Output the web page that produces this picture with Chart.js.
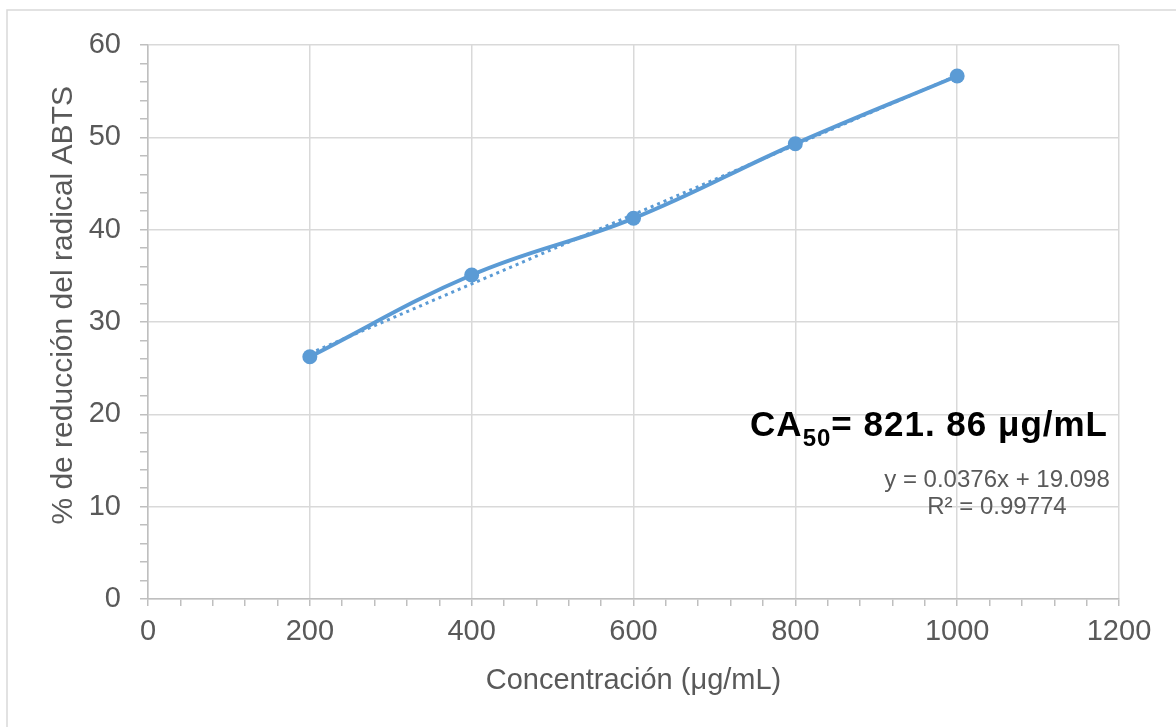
<!DOCTYPE html>
<html>
<head>
<meta charset="utf-8">
<script src="https://cdn.jsdelivr.net/npm/chart.js@4"></script>
<style>
  html, body { margin: 0; padding: 0; background: #fff; }
  canvas { display: block; }
</style>
</head>
<body>
<canvas id="chart" width="1176" height="727"></canvas>
<script>
// concentration (µg/mL) and % reduction of ABTS radical
const concentrations = [200, 400, 600, 800, 1000];
const reduction = [26.24, 35.09, 41.23, 49.3, 56.64];

// linear trendline ends
const trendX = [200, 1000];
const trendY = [26.6, 56.7];

const xTicks = [0, 200, 400, 600, 800, 1000, 1200];
const yTicks = [0, 10, 20, 30, 40, 50, 60];

const equationText = 'y = 0.0376x + 19.098';
const r2Text = 'R² = 0.99774';

const BLUE = '#5b9bd5';
const FONT = '"Liberation Sans", Arial, sans-serif';

// outer frame + text annotations
const annotations = {
    id: 'annotations',
    beforeDraw(chart) {
        const ctx = chart.ctx;
        ctx.save();
        ctx.strokeStyle = '#d9d9d9';
        ctx.lineWidth = 1.5;
        ctx.strokeRect(7, 10, 2000, 2000);
        ctx.restore();
    },
    afterDraw(chart) {
        const ctx = chart.ctx;
        ctx.save();

        // CA50 label, right aligned
        const big = 'bold 35px ' + FONT;
        const sub = 'bold 24px ' + FONT;
        const partA = 'CA', partSub = '50', partB = '= 821. 86 μg/mL';
        ctx.letterSpacing = '1px';
        ctx.font = big;
        const wA = ctx.measureText(partA).width;
        const wB = ctx.measureText(partB).width;
        ctx.font = sub;
        const wS = ctx.measureText(partSub).width;
        let x = 1108 - (wA + wS + wB);
        const base = 436;
        ctx.fillStyle = '#000';
        ctx.textBaseline = 'alphabetic';
        ctx.textAlign = 'left';
        ctx.font = big;
        ctx.fillText(partA, x, base);
        x += wA;
        ctx.font = sub;
        ctx.fillText(partSub, x, base + 10);
        x += wS;
        ctx.font = big;
        ctx.fillText(partB, x, base);

        // trendline equation
        ctx.letterSpacing = '0px';
        ctx.font = '24px ' + FONT;
        ctx.fillStyle = '#595959';
        ctx.textAlign = 'center';
        ctx.fillText(equationText, 997, 487);
        ctx.fillText(r2Text, 997, 514);
        ctx.restore();
    }
};

new Chart(document.getElementById('chart'), {
    type: 'scatter',
    data: {
        datasets: [
            {
                label: 'Datos',
                data: concentrations.map((c, i) => ({ x: c, y: reduction[i] })),
                showLine: true,
                tension: 0.4,
                borderColor: BLUE,
                borderWidth: 4,
                backgroundColor: BLUE,
                pointRadius: 7.5,
                pointBorderWidth: 0,
                pointHoverRadius: 7.5,
                order: 1,
            },
            {
                label: 'Lineal',
                data: trendX.map((c, i) => ({ x: c, y: trendY[i] })),
                showLine: true,
                borderColor: BLUE,
                borderWidth: 3,
                borderDash: [3, 4],
                pointRadius: 0,
                order: 2,
            }
        ]
    },
    options: {
        responsive: false,
        animation: false,
        layout: { padding: { left: 46, right: 57, top: 45, bottom: 29 } },
        plugins: {
            legend: { display: false },
            tooltip: { enabled: false },
        },
        scales: {
            x: {
                type: 'linear',
                min: 0,
                max: 1200,
                afterFit: (scale) => { scale.height = 99; },
                afterBuildTicks: (scale) => {
                    const t = [];
                    for (let v = 0; v <= 1200; v += 40) t.push({ value: v });
                    scale.ticks = t;
                },
                grid: {
                    color: (ctx) => xTicks.includes(ctx.tick.value) ? '#d9d9d9' : 'rgba(0,0,0,0)',
                    tickColor: '#bfbfbf',
                    lineWidth: 1.5,
                    tickWidth: 1.5,
                    tickLength: 7,
                },
                border: { color: '#bfbfbf', width: 1.5 },
                ticks: {
                    autoSkip: false,
                    maxRotation: 0,
                    padding: 9,
                    color: '#595959',
                    font: { family: FONT, size: 29 },
                    callback: (v) => xTicks.includes(v) ? String(v) : '',
                },
                title: {
                    display: true,
                    text: 'Concentración (μg/mL)',
                    color: '#595959',
                    font: { family: FONT, size: 29 },
                    padding: { top: 0, bottom: 0 },
                },
            },
            y: {
                type: 'linear',
                min: 0,
                max: 60,
                afterFit: (scale) => { scale.width = 102; },
                afterBuildTicks: (scale) => {
                    const t = [];
                    for (let v = 0; v <= 60; v += 2) t.push({ value: v });
                    scale.ticks = t;
                },
                grid: {
                    color: (ctx) => yTicks.includes(ctx.tick.value) ? '#d9d9d9' : 'rgba(0,0,0,0)',
                    tickColor: '#bfbfbf',
                    lineWidth: 1.5,
                    tickWidth: 1.5,
                    tickLength: 8,
                },
                border: { color: '#bfbfbf', width: 1.5 },
                ticks: {
                    autoSkip: false,
                    padding: 19,
                    color: '#595959',
                    font: { family: FONT, size: 29 },
                    callback: (v) => yTicks.includes(v) ? String(v) : '',
                },
                title: {
                    display: true,
                    // leading spaces push the rotated title up, as in the original
                    text: '    % de reducción del radical ABTS',
                    color: '#595959',
                    font: { family: FONT, size: 30 },
                    padding: { top: 0, bottom: 0 },
                },
            }
        }
    },
    plugins: [annotations]
});
</script>
</body>
</html>
